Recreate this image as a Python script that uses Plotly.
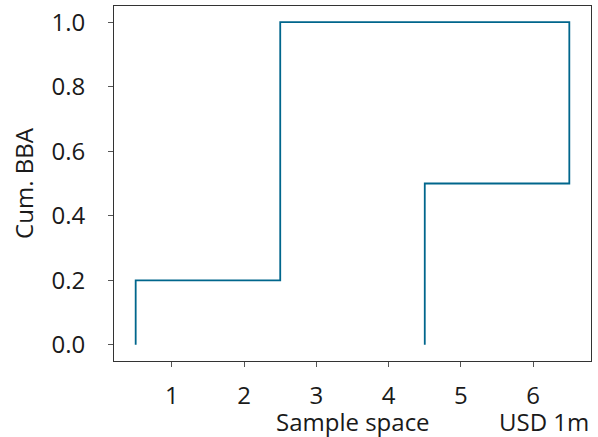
import plotly.graph_objects as go

# Step path of the cumulative BBA curve (sample space in USD 1m)
sample_space = [0.5, 0.5, 2.5, 2.5, 6.5, 6.5, 4.5, 4.5]
cum_bba = [0.0, 0.2, 0.2, 1.0, 1.0, 0.5, 0.5, 0.0]

x_ticks = [1, 2, 3, 4, 5, 6]
y_ticks = [0.0, 0.2, 0.4, 0.6, 0.8, 1.0]
y_tick_text = ["0.0", "0.2", "0.4", "0.6", "0.8", "1.0"]

FONT = "Open Sans"
FS = 24
TXT = "#1a1a1a"
fnt = dict(family=FONT, size=FS, color=TXT)

fig = go.Figure()
fig.add_trace(go.Scatter(x=sample_space, y=cum_bba, mode="lines",
                         line=dict(color="#00668c", width=1.8),
                         showlegend=False, hoverinfo="skip"))

axis_common = dict(showgrid=False, zeroline=False, showline=True, mirror=True,
                   linecolor="#333333", linewidth=1, ticks="outside", ticklen=5,
                   tickcolor="#555555", tickwidth=1, tickfont=fnt)

fig.update_layout(
    width=598, height=437,
    margin=dict(l=114, r=7, t=6, b=76),
    paper_bgcolor="white", plot_bgcolor="white",
    xaxis=dict(range=[0.2, 6.8], tickvals=x_ticks, ticklabelstandoff=8, **axis_common),
    yaxis=dict(range=[-0.05, 1.05], tickvals=y_ticks, ticktext=y_tick_text,
               ticklabelstandoff=18,
               title=dict(text="Cum. BBA", font=fnt, standoff=11),
               **axis_common),
    annotations=[
        dict(text="Sample space", xref="paper", yref="paper", x=0.5, y=0,
             xanchor="center", yanchor="middle", yshift=-60, showarrow=False, font=fnt),
        dict(text="USD 1m", xref="paper", yref="paper", x=1, y=0,
             xanchor="right", yanchor="middle", yshift=-60, showarrow=False, font=fnt),
    ],
)
fig.write_html("out.html")
